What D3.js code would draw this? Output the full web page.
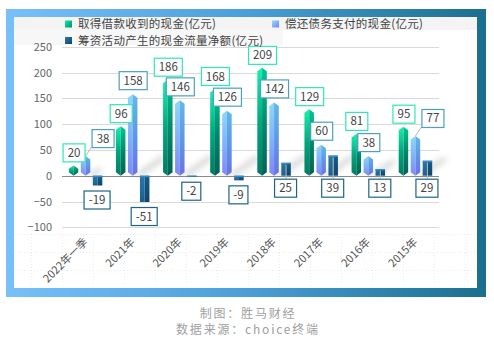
<!DOCTYPE html>
<html>
<head>
<meta charset="utf-8">
<title>筹资活动现金流</title>
<script src="https://d3js.org/d3.v7.min.js"></script>
<style>
	body { margin: 0; background: #fff; }
	svg text { font-family: "Noto Sans CJK SC", "Liberation Sans", sans-serif; }
	.tick text { fill: #666; font-size: 11px; }
</style>
</head>
<body>
<div id="chart"></div>
<script>
// data
var categories = ['2022年一季', '2021年', '2020年', '2019年', '2018年', '2017年', '2016年', '2015年'];
var borrowed  = [20, 96, 186, 168, 209, 129, 81, 95];    // 取得借款收到的现金
var repaid    = [38, 158, 146, 126, 142, 60, 38, 77];     // 偿还债务支付的现金
var netFlow   = [-19, -51, -2, -9, 25, 39, 13, 29];       // 筹资活动产生的现金流量净额
var yTicks    = [-100, -50, 0, 50, 100, 150, 200, 250];
var seriesNames = ['取得借款收到的现金(亿元)', '偿还债务支付的现金(亿元)', '筹资活动产生的现金流量净额(亿元)'];

var W = 494, H = 351;
var svg = d3.select('#chart').append('svg').attr('width', W).attr('height', H);
var defs = svg.append('defs');

function grad(id, stops, x2, y2) {
	var g = defs.append('linearGradient').attr('id', id)
		.attr('x1', 0).attr('y1', 0).attr('x2', x2).attr('y2', y2);
	stops.forEach(function(s, i) {
		g.append('stop').attr('offset', (i / (stops.length - 1) * 100) + '%').attr('stop-color', s);
	});
}
grad('frame', ['#78c0fa', '#4a9fd8', '#1a6f8e'], 1, 0);
grad('gL0', ['#18f2ac', '#00a87e', '#007a62'], 0, 1);
grad('gR0', ['#00c894', '#008a6c', '#006252'], 0, 1);
grad('gL1', ['#8cd8fc', '#80b4fa', '#7e88f8'], 0, 1);
grad('gR1', ['#62b8e8', '#5e98e6', '#6a72e2'], 0, 1);
grad('gL2', ['#2a78a8', '#1a5f8e'], 0, 1);
grad('gR2', ['#175c8a', '#0e466e'], 0, 1);
grad('mk0', ['#10e8a8', '#00906c'], 1, 1);
grad('mk1', ['#9ad8fc', '#6a88f0'], 1, 1);
grad('mk2', ['#2a78a8', '#0e466e'], 1, 1);
defs.append('filter').attr('id', 'blur').attr('x', '-50%').attr('y', '-50%').attr('width', '200%').attr('height', '200%')
	.append('feGaussianBlur').attr('stdDeviation', 3);
var pat = defs.append('pattern').attr('id', 'dots').attr('patternUnits', 'userSpaceOnUse')
	.attr('width', 31).attr('height', 18);
pat.append('path').attr('d', 'M0,0.5H31M0.5,0V18').attr('stroke', '#ececec').attr('stroke-dasharray', '1,2').attr('fill', 'none');

// frame
svg.append('rect').attr('x', 6).attr('y', 9).attr('width', 480).attr('height', 288).attr('fill', 'url(#frame)');
svg.append('rect').attr('x', 14).attr('y', 17).attr('width', 463).attr('height', 271).attr('fill', '#fff');
svg.append('rect').attr('x', 14).attr('y', 232).attr('width', 463).attr('height', 56).attr('fill', 'url(#dots)');
svg.append('rect').attr('x', 14).attr('y', 17).attr('width', 463).attr('height', 13).attr('fill', '#f4f4f4');
svg.append('rect').attr('x', 14).attr('y', 30).attr('width', 269).attr('height', 15).attr('fill', '#f7f7f7');

var x = d3.scaleBand().domain(categories).range([62, 439]);
var y = d3.scaleLinear().domain([-100, 250]).range([227.3, 46.7]);
var sub = d3.scalePoint().domain([0, 1, 2]).range([-12, 12]);
var barW = 9.5;

// grid + y axis
svg.append('g').selectAll('line').data(yTicks).join('line')
	.attr('x1', 62).attr('x2', 439)
	.attr('y1', function(d) { return Math.round(y(d)) + 0.5; })
	.attr('y2', function(d) { return Math.round(y(d)) + 0.5; })
	.attr('stroke', function(d) { return d === 0 ? '#8a8a8a' : '#d9d9d9'; });

var yAxis = svg.append('g').attr('transform', 'translate(58,0)')
	.call(d3.axisLeft(y).tickValues(yTicks).tickSize(0).tickPadding(6));
yAxis.select('.domain').remove();

// x labels
svg.append('g').selectAll('text').data(categories).join('text')
	.attr('transform', function(d) { return 'translate(' + (x(d) + x.bandwidth() / 2) + ',240) rotate(-45)'; })
	.attr('text-anchor', 'end').attr('dy', '0.35em')
	.attr('font-size', 11).attr('fill', '#555')
	.text(function(d) { return d; });

var series = [borrowed, repaid, netFlow];

function cx(i, s) { return x(categories[i]) + x.bandwidth() / 2 + sub(s); }

// shadows behind the bars
var shadowG = svg.append('g').attr('filter', 'url(#blur)').attr('opacity', 0.35);
categories.forEach(function(c, i) {
	var top = Math.max(borrowed[i], repaid[i]);
	var len = Math.min(28, (y(0) - y(top)) * 0.5);
	var bx = cx(i, 1) + barW / 2;
	shadowG.append('path')
		.attr('d', 'M' + (bx - 4) + ',' + y(0) + 'L' + (bx + 4) + ',' + y(0) +
			'L' + (bx + 4 + len) + ',' + (y(0) - len * 0.7) + 'L' + (bx - 4 + len) + ',' + (y(0) - len * 0.7) + 'Z')
		.attr('fill', '#777');
});

// prism bars
var bars = svg.append('g');
series.forEach(function(vals, s) {
	vals.forEach(function(v, i) {
		var c = cx(i, s), x0 = c - barW / 2, x1 = c + barW / 2;
		var yv = y(v), y0 = y(0);
		var yt = Math.min(yv, y0), yb = Math.max(yv, y0);
		var tip = s === 2 ? 0 : Math.min(3.5, (yb - yt) / 3);
		var g = bars.append('g');
		g.append('path')
			.attr('d', 'M' + c + ',' + yt + 'L' + x0 + ',' + (yt + tip) + 'L' + x0 + ',' + (yb - tip) + 'L' + c + ',' + yb + 'Z')
			.attr('fill', 'url(#gL' + s + ')');
		g.append('path')
			.attr('d', 'M' + c + ',' + yt + 'L' + x1 + ',' + (yt + tip) + 'L' + x1 + ',' + (yb - tip) + 'L' + c + ',' + yb + 'Z')
			.attr('fill', 'url(#gR' + s + ')');
		if (s === 2) {
			g.append('rect').attr('x', x0).attr('y', yt).attr('width', barW).attr('height', Math.min(1.5, yb - yt))
				.attr('fill', '#3a8cc0');
		}
	});
});

// value labels
var labelColors = ['#2ee8b4', '#4ca0c4', '#1c6486'];
var labelG = svg.append('g');
function makeLabel(v, s) {
	var g = labelG.append('g');
	var t = g.append('text').attr('font-size', 11.5).attr('fill', '#444')
		.attr('text-anchor', 'middle').attr('dy', '0.35em').text(v);
	var w = Math.round(t.node().getComputedTextLength()) + 9;
	return { g: g, t: t, w: w, h: 18 };
}
function place(l, bx, by) {
	// bx,by = top-left corner
	l.g.insert('rect', 'text').attr('x', bx + 0.5).attr('y', by + 0.5).attr('width', l.w).attr('height', l.h)
		.attr('fill', '#fff').attr('stroke', l.color).attr('stroke-width', 1.2);
	l.t.attr('x', bx + 0.5 + l.w / 2).attr('y', by + 0.5 + l.h / 2);
}
function leader(x1, y1, x2, y2) {
	labelG.insert('line', ':first-child').attr('x1', x1).attr('y1', y1).attr('x2', x2).attr('y2', y2)
		.attr('stroke', '#b8b8b8').attr('stroke-width', 1);
}

categories.forEach(function(c, i) {
	// green: centred above the bar
	var gl = makeLabel(borrowed[i], 0); gl.color = labelColors[0];
	var gx = cx(i, 0) - gl.w / 2, gy = y(borrowed[i]) - 4 - gl.h;
	place(gl, gx, gy);

	// blue: above the bar, pushed right if it runs into the green one
	var bl = makeLabel(repaid[i], 1); bl.color = labelColors[1];
	var bxc = cx(i, 1), bx = bxc - bl.w / 2, by = y(repaid[i]) - 5 - bl.h;
	var overlap = bx < gx + gl.w && by < gy + gl.h && by + bl.h > gy;
	if (overlap) {
		bx = gx + gl.w + 7;
		by -= 4;
		leader(bxc, y(repaid[i]), bx, by + bl.h);
	}
	place(bl, bx, by);

	// dark: below the zero line / bar end
	var nl = makeLabel(netFlow[i], 2); nl.color = labelColors[2];
	var nxc = cx(i, 2);
	var ny = Math.max(y(netFlow[i]), y(0)) + (netFlow[i] < 0 ? 5 : 3);
	if (netFlow[i] > 0) leader(nxc, y(netFlow[i]) + 2, nxc, ny);
	place(nl, nxc - nl.w / 2 - 1, ny);
});

// legend
var legend = svg.append('g').attr('font-size', 11.5).attr('fill', '#444');
var legPos = [[65, 20.5], [272, 20.5], [65, 37]];
seriesNames.forEach(function(n, s) {
	legend.append('rect').attr('x', legPos[s][0]).attr('y', legPos[s][1]).attr('width', 7).attr('height', 7)
		.attr('fill', 'url(#mk' + s + ')');
	legend.append('text').attr('x', legPos[s][0] + 13).attr('y', legPos[s][1] + 3.5).attr('dy', '0.36em')
		.attr('fill', '#444').attr('letter-spacing', 0.3).text(n);
});

// footer
var foot = svg.append('g').attr('text-anchor', 'middle').attr('fill', '#a0a0a0')
	.attr('font-size', 12).attr('letter-spacing', 1.8);
foot.append('text').attr('x', 248).attr('y', 318).text('制图：胜马财经');
foot.append('text').attr('x', 248).attr('y', 334).text('数据来源：choice终端');
</script>
</body>
</html>
